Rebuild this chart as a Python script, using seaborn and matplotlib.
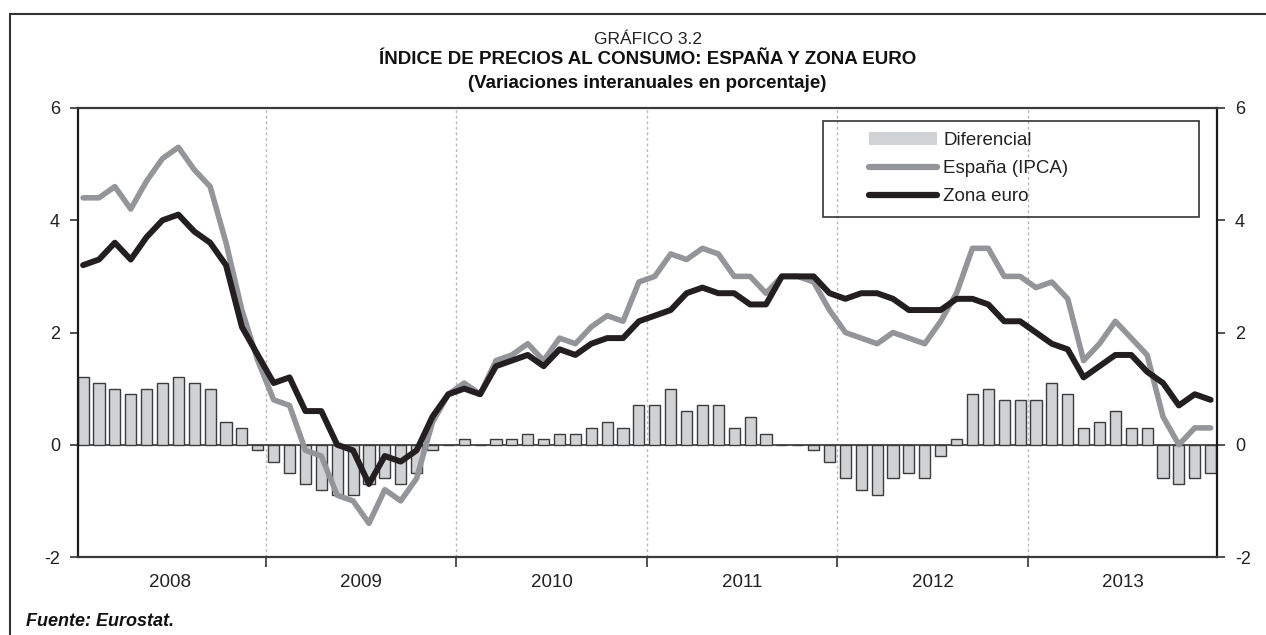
import matplotlib
matplotlib.use("Agg")
import matplotlib.pyplot as plt
from matplotlib.lines import Line2D
from matplotlib.patches import Patch, Rectangle
import seaborn as sns
import numpy as np
import pandas as pd

years = ["2008", "2009", "2010", "2011", "2012", "2013"]

espana = [4.4, 4.4, 4.6, 4.2, 4.7, 5.1, 5.3, 4.9, 4.6, 3.6, 2.4, 1.5,
          0.8, 0.7, -0.1, -0.2, -0.9, -1.0, -1.4, -0.8, -1.0, -0.6, 0.4, 0.9,
          1.1, 0.9, 1.5, 1.6, 1.8, 1.5, 1.9, 1.8, 2.1, 2.3, 2.2, 2.9,
          3.0, 3.4, 3.3, 3.5, 3.4, 3.0, 3.0, 2.7, 3.0, 3.0, 2.9, 2.4,
          2.0, 1.9, 1.8, 2.0, 1.9, 1.8, 2.2, 2.7, 3.5, 3.5, 3.0, 3.0,
          2.8, 2.9, 2.6, 1.5, 1.8, 2.2, 1.9, 1.6, 0.5, 0.0, 0.3, 0.3]

zona_euro = [3.2, 3.3, 3.6, 3.3, 3.7, 4.0, 4.1, 3.8, 3.6, 3.2, 2.1, 1.6,
             1.1, 1.2, 0.6, 0.6, 0.0, -0.1, -0.7, -0.2, -0.3, -0.1, 0.5, 0.9,
             1.0, 0.9, 1.4, 1.5, 1.6, 1.4, 1.7, 1.6, 1.8, 1.9, 1.9, 2.2,
             2.3, 2.4, 2.7, 2.8, 2.7, 2.7, 2.5, 2.5, 3.0, 3.0, 3.0, 2.7,
             2.6, 2.7, 2.7, 2.6, 2.4, 2.4, 2.4, 2.6, 2.6, 2.5, 2.2, 2.2,
             2.0, 1.8, 1.7, 1.2, 1.4, 1.6, 1.6, 1.3, 1.1, 0.7, 0.9, 0.8]

diferencial = [1.2, 1.1, 1.0, 0.9, 1.0, 1.1, 1.2, 1.1, 1.0, 0.4, 0.3, -0.1,
               -0.3, -0.5, -0.7, -0.8, -0.9, -0.9, -0.7, -0.6, -0.7, -0.5, -0.1, 0.0,
               0.1, 0.0, 0.1, 0.1, 0.2, 0.1, 0.2, 0.2, 0.3, 0.4, 0.3, 0.7,
               0.7, 1.0, 0.6, 0.7, 0.7, 0.3, 0.5, 0.2, 0.0, 0.0, -0.1, -0.3,
               -0.6, -0.8, -0.9, -0.6, -0.5, -0.6, -0.2, 0.1, 0.9, 1.0, 0.8, 0.8,
               0.8, 1.1, 0.9, 0.3, 0.4, 0.6, 0.3, 0.3, -0.6, -0.7, -0.6, -0.5]

y_ticks = [-2, 0, 2, 4, 6]

sns.set_theme(style="white")
plt.rcParams["font.family"] = ["Liberation Sans", "DejaVu Sans"]

n = len(espana)
df = pd.DataFrame({"mes": np.arange(n), "espana": espana,
                   "euro": zona_euro, "dif": diferencial})

W, H = 1266, 635
fig = plt.figure(figsize=(W / 100, H / 100), dpi=100)
ax = fig.add_axes([78 / W, 1 - 557 / H, (1217 - 78) / W, (557 - 108) / H])

BAR = "#d1d2d4"
ESP = "#939598"
EUR = "#231f20"

# year separators
for k in range(1, len(years)):
    ax.axvline(12 * k - 0.5, color="#b8b8b8", lw=1, ls=(0, (2, 2)), zorder=0)
ax.axhline(0, color="#333333", lw=1.2, zorder=1)

sns.barplot(data=df, x="mes", y="dif", color=BAR, width=0.7,
            edgecolor="#3c3c3c", linewidth=1.0, saturation=1, ax=ax, zorder=2)
sns.lineplot(data=df, x="mes", y="espana", color=ESP, lw=4.0, ax=ax, zorder=3)
sns.lineplot(data=df, x="mes", y="euro", color=EUR, lw=4.3, ax=ax, zorder=4)

ax.set_xlim(-0.32, 71.4)
ax.set_ylim(-2, 6)
ax.set_xlabel("")
ax.set_ylabel("")

# spines
for s in ["left", "right"]:
    ax.spines[s].set_color("#1a1a1a")
    ax.spines[s].set_linewidth(1.6)
for s in ["top", "bottom"]:
    ax.spines[s].set_color("#3a3a3a")
    ax.spines[s].set_linewidth(1.6)

# y ticks both sides
ax.set_yticks(y_ticks)
ax.set_yticklabels([str(v) for v in y_ticks])
ax.yaxis.set_ticks_position("both")
ax.tick_params(axis="y", which="both", direction="out", length=6, width=1.2,
               color="#333333", labelsize=13, labelcolor="#222222",
               left=True, right=True, labelleft=True, labelright=True, pad=7)

# x ticks: separators as major (no label), year names as minor
ax.set_xticks([12 * k - 0.5 for k in range(1, len(years))])
ax.set_xticklabels([])
ax.set_xticks([12 * k + 5.5 for k in range(len(years))], minor=True)
ax.set_xticklabels(years, minor=True)
ax.tick_params(axis="x", which="major", direction="out", length=7, width=1.2,
               color="#333333", bottom=True)
ax.tick_params(axis="x", which="minor", length=0, labelsize=13.5,
               labelcolor="#222222", pad=12)

# legend
handles = [Patch(facecolor=BAR, edgecolor="none"),
           Line2D([], [], color=ESP, lw=4.5),
           Line2D([], [], color=EUR, lw=4.5)]
labels = ["Diferencial", "España (IPCA)", "Zona euro"]
leg = fig.legend(handles, labels, loc="upper left",
                 bbox_to_anchor=(869 / W, 1 - 132 / H),
                 bbox_transform=fig.transFigure, frameon=False,
                 fontsize=13.5, handlelength=3.6, handleheight=0.65,
                 handletextpad=0.35, labelspacing=0.6, borderpad=0,
                 borderaxespad=0)
for t in leg.get_texts():
    t.set_color("#222222")
fig.add_artist(Rectangle((823 / W, 1 - 217 / H), (1199 - 823) / W, (217 - 121) / H,
                         transform=fig.transFigure, fill=False,
                         edgecolor="#333333", lw=1.2, zorder=5))

# titles
cx = (78 + 1217) / 2 / W
fig.text(cx, 1 - 44 / H, "GRÁFICO 3.2", ha="center", va="baseline",
         fontsize=12.5, color="#222222")
fig.text(cx, 1 - 64 / H, "ÍNDICE DE PRECIOS AL CONSUMO: ESPAÑA Y ZONA EURO",
         ha="center", va="baseline", fontsize=13.5, fontweight="bold", color="#111111")
fig.text(cx, 1 - 88 / H, "(Variaciones interanuales en porcentaje)",
         ha="center", va="baseline", fontsize=13.5, fontweight="bold", color="#111111")
fig.text(26 / W, 1 - 626 / H, "Fuente: Eurostat.", ha="left", va="baseline",
         fontsize=13, fontweight="bold", fontstyle="italic", color="#111111")

# outer frame (top and left)
fig.add_artist(Line2D([10 / W, 1.0], [1 - 14 / H, 1 - 14 / H],
                      transform=fig.transFigure, color="#333333", lw=1.5))
fig.add_artist(Line2D([10 / W, 10 / W], [1 - 14 / H, 0.0],
                      transform=fig.transFigure, color="#333333", lw=1.5))

fig.savefig("out.png", dpi=100)
